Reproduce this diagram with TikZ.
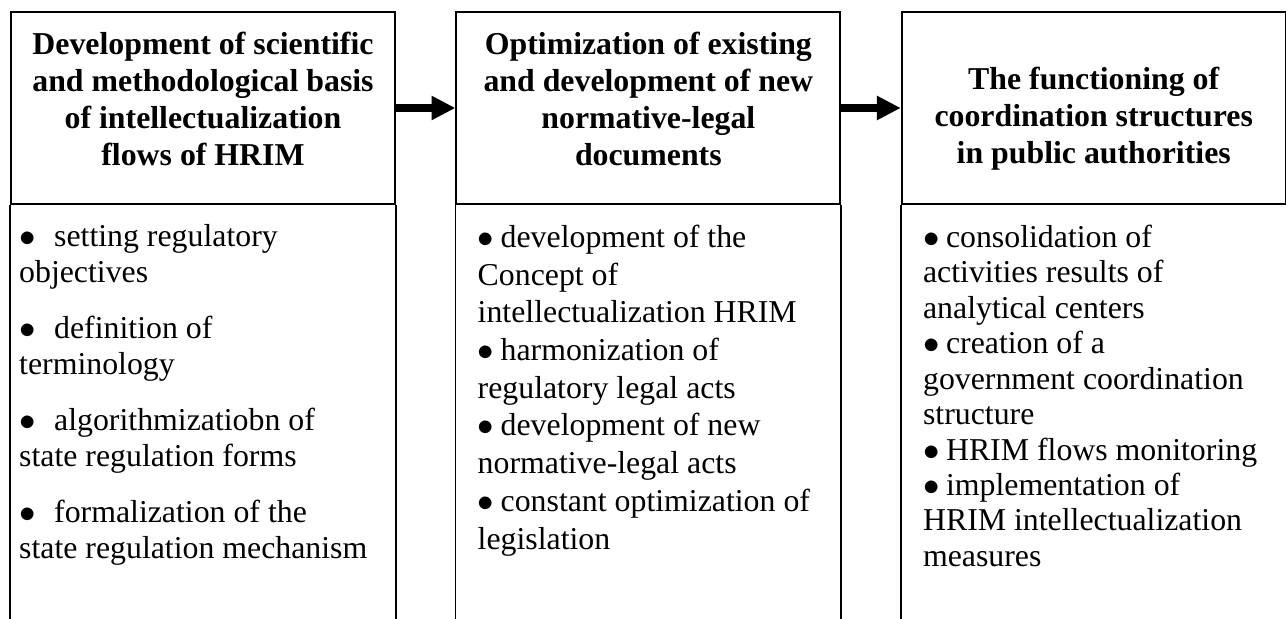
\documentclass[tikz,border=0pt]{standalone}
\usepackage{fontspec}
\setmainfont{Liberation Serif}
\usetikzlibrary{positioning,arrows.meta}
\newcommand{\tabbullet}{\makebox[15.4pt][l]{$\bullet$}}
\newcommand{\listbullet}{\makebox[10.1pt][l]{$\bullet$}}

\begin{document}
\begin{tikzpicture}[x=0.44pt,y=-0.44pt,line width=0.8pt,
  head/.style={draw,minimum width=168.96pt,minimum height=84.48pt,inner sep=0pt},
  title/.style={inner sep=0pt,align=center,font=\fontsize{14}{16.3}\selectfont\bfseries},
  items/.style={inner sep=0pt,align=left},
  flow/.style={-{Triangle[length=10.5pt,width=10pt]},line width=3.5pt}]
  \useasboundingbox (0,0) rectangle (1286,619);
  \coordinate (bot) at (0,619);
  \node[head] (h1) at (203,108) {};
  \node[head,right=26.2pt of h1] (h2) {};
  \node[head,right=26.2pt of h2] (h3) {};
  \node[title,below=8.8pt of h1.north] (t1) {Development of scientific\\and methodological basis\\of intellectualization\\flows of HRIM};
  \node[title,below=8.8pt of h2.north] (t2) {Optimization of existing\\and development of new\\normative-legal\\documents};
  \node[title,below=24.2pt of h3.north] (t3) {The functioning of\\coordination structures\\in public authorities};
  \foreach \h in {h1,h2,h3} {
    \draw (\h.south west) -- (\h.south west |- bot);
    \draw (\h.south east) -- (\h.south east |- bot);
  }
  \draw[flow] (h1.east) -- (h2.west);
  \draw[flow] (h2.east) -- (h3.west);
  \node[items,font=\fontsize{14}{15.8}\selectfont,below right=8.4pt and 3.6pt of h1.south west] (b1)
    {\tabbullet setting regulatory\\objectives\\[8.8pt]
     \tabbullet definition of\\terminology\\[8.8pt]
     \tabbullet algorithmizatiobn of\\state regulation forms\\[8.8pt]
     \tabbullet formalization of the\\state regulation mechanism};
  \node[items,font=\fontsize{14}{16.6}\selectfont,below right=8.4pt and 9.4pt of h2.south west] (b2)
    {\listbullet development of the\\Concept of\\intellectualization HRIM\\
     \listbullet harmonization of\\regulatory legal acts\\
     \listbullet development of new\\normative-legal acts\\
     \listbullet constant optimization of\\legislation};
  \node[items,font=\fontsize{14}{15.6}\selectfont,below right=8.4pt and 9.4pt of h3.south west] (b3)
    {\listbullet consolidation of\\activities results of\\analytical centers\\
     \listbullet creation of a\\government coordination\\structure\\
     \listbullet HRIM flows monitoring\\
     \listbullet implementation of\\HRIM intellectualization\\measures};
\end{tikzpicture}
\end{document}
